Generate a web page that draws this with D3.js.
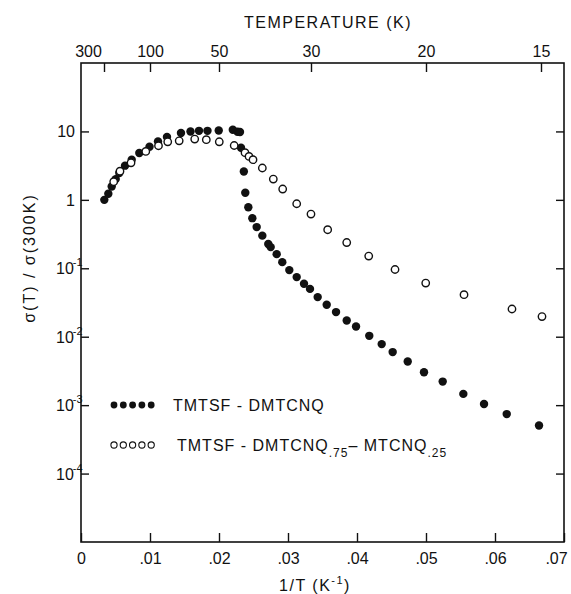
<!DOCTYPE html>
<html>
<head>
<meta charset="utf-8">
<script src="https://cdn.jsdelivr.net/npm/d3@7"></script>
<style>
  body { margin: 0; background: #fff; }
  svg text { font-family: "Liberation Sans", Arial, sans-serif; fill: #111; }
</style>
</head>
<body>
<div id="chart"></div>
<script>
// TMTSF-DMTCNQ (filled)
const filledX = [.00338, .00396, .00445, .00503, .00555, .00638, .00735, .00845, .00993, .01116, .01246, .01449,
  .01587, .0171, .01833, .01996, .0220, .02268, .02304, .02319, .0236, .02381, .02425, .02483, .02546, .02628,
  .02714, .02749, .02836, .02917, .03019, .03126, .03232, .03319, .0343, .03561, .03696, .03851, .03986, .04178,
  .04358, .04517, .04735, .04971, .05242, .05541, .05841, .0617, .06638];
const filledY = [1.0, 1.23, 1.57, 2.01, 2.47, 3.16, 3.86, 4.83, 5.97, 7.15, 8.28, 9.49,
  10.0, 10.2, 10.2, 10.3, 10.6, 9.9, 9.8, 5.78, 2.60, 1.27, 0.78, 0.54, 0.40, 0.30,
  0.226, 0.204, 0.161, 0.123, 0.094, 0.0743, 0.0593, 0.050, 0.0379, 0.0293, 0.0229, 0.0173, 0.0141, 0.0103,
  0.0078, 0.00596, 0.00434, 0.00303, 0.00221, 0.00146, 0.00104, 0.00074, 0.000503];

// TMTSF-DMTCNQ.75-MTCNQ.25 (open)
const openX = [.00474, .00565, .00725, .00939, .01123, .01257, .01423, .01648, .01816, .02004, .0222, .02377,
  .02435, .02493, .02628, .02787, .02923, .03126, .03333, .03575, .03851, .0417, .04551, .04996, .05551, .06246, .06681];
const openY = [1.84, 2.62, 3.48, 5.1, 6.18, 7.06, 7.3, 7.74, 7.57, 7.06, 6.23, 4.89,
  4.31, 3.86, 2.92, 2.01, 1.44, 0.877, 0.619, 0.366, 0.238, 0.151, 0.096, 0.0608, 0.0412, 0.0254, 0.0197];

const xTicks = [0, .01, .02, .03, .04, .05, .06, .07];
const yTicks = [1e-4, 1e-3, 1e-2, 1e-1, 1, 10];
const tempTicks = [300, 100, 50, 30, 20, 15];

const width = 571, height = 594;
const plotLeft = 81, plotRight = 564, plotTop = 63, plotBottom = 542;

const svg = d3.select("#chart").append("svg").attr("width", width).attr("height", height);

const x = d3.scaleLinear().domain([0, 0.07]).range([plotLeft, plotRight]);
const y = d3.scaleLog().domain([1e-5, 1e2]).range([plotBottom, plotTop]);

// ------------------------------
// Axes
// ------------------------------
const bottomAxis = d3.axisBottom(x)
  .tickValues(xTicks)
  .tickSizeInner(-9).tickSizeOuter(0).tickPadding(11)
  .tickFormat(d => d === 0 ? "0" : d3.format(".2f")(d).replace(/^0/, ""));

const topAxis = d3.axisTop(x)
  .tickValues(tempTicks.map(t => 1 / t))
  .tickSizeInner(-9).tickSizeOuter(0).tickPadding(6)
  .tickFormat(d => Math.round(1 / d));

const leftAxis = d3.axisLeft(y).tickValues(yTicks).tickSizeInner(-8).tickSizeOuter(0).tickFormat("");
const rightAxis = d3.axisRight(y).tickValues(yTicks).tickSizeInner(-8).tickSizeOuter(0).tickFormat("");

function styleAxis(g) {
  g.select(".domain").remove();
  g.selectAll("line").attr("stroke", "#111").attr("stroke-width", 1.4);
  g.selectAll("text").attr("font-size", "16px").attr("fill", "#111")
    .attr("font-family", "Liberation Sans, Arial, sans-serif");
}

svg.append("g").attr("transform", `translate(0,${plotBottom})`).call(bottomAxis).call(styleAxis)
  .selectAll("text")
  .attr("dx", d => d === 0.07 ? -8 : 0);
svg.append("g").attr("transform", `translate(0,${plotTop})`).call(topAxis).call(styleAxis)
  .selectAll("text")
  .attr("dx", d => Math.round(1 / d) === 300 ? -16 : 0);
svg.append("g").attr("transform", `translate(${plotLeft},0)`).call(leftAxis).call(styleAxis);
svg.append("g").attr("transform", `translate(${plotRight},0)`).call(rightAxis).call(styleAxis);

// frame
svg.append("rect")
  .attr("x", plotLeft).attr("y", plotTop)
  .attr("width", plotRight - plotLeft).attr("height", plotBottom - plotTop)
  .attr("fill", "none").attr("stroke", "#111").attr("stroke-width", 1.6);

// y tick labels with powers of ten
const yLabels = svg.selectAll(".y-label")
  .data(yTicks)
  .enter()
  .append("text")
  .attr("class", "y-label")
  .attr("y", d => y(d) + 6)
  .attr("font-size", "16px");

yLabels.each(function (d) {
  const t = d3.select(this);
  const p = Math.round(Math.log10(d));
  if (p >= 0) {
    t.attr("x", 75).attr("text-anchor", "end").text(d3.format("d")(d));
  } else {
    t.attr("x", 56).attr("text-anchor", "start");
    t.append("tspan").text("10");
    t.append("tspan").attr("font-size", "11px").attr("dy", -8).attr("dx", -1).text("-" + (-p));
  }
});

// axis titles
svg.append("text")
  .attr("x", 328).attr("y", 28)
  .attr("text-anchor", "middle")
  .attr("font-size", "16px")
  .attr("letter-spacing", "1.5px")
  .text("TEMPERATURE (K)");

const xTitle = svg.append("text")
  .attr("x", 315).attr("y", 591)
  .attr("text-anchor", "middle")
  .attr("font-size", "16px")
  .attr("letter-spacing", "1.5px");
xTitle.append("tspan").text("1/T  (K");
xTitle.append("tspan").attr("font-size", "11px").attr("dy", -7).text("-1");
xTitle.append("tspan").attr("dy", 7).text(")");

svg.append("text")
  .attr("transform", "translate(35,258) rotate(-90)")
  .attr("text-anchor", "middle")
  .attr("font-size", "16px")
  .attr("letter-spacing", "2px")
  .text("σ(T) / σ(300K)");

// ------------------------------
// Data points
// ------------------------------
const filled = filledX.map((v, i) => ({ x: v, y: filledY[i] }));
const open = openX.map((v, i) => ({ x: v, y: openY[i] }));

svg.selectAll(".pt-filled")
  .data(filled)
  .enter()
  .append("circle")
  .attr("class", "pt-filled")
  .attr("cx", d => x(d.x))
  .attr("cy", d => y(d.y))
  .attr("r", 4.2)
  .attr("fill", "#111");

svg.selectAll(".pt-open")
  .data(open)
  .enter()
  .append("circle")
  .attr("class", "pt-open")
  .attr("cx", d => x(d.x))
  .attr("cy", d => y(d.y))
  .attr("r", 3.7)
  .attr("fill", "#fff")
  .attr("stroke", "#111")
  .attr("stroke-width", 1.4);

// ------------------------------
// Legend
// ------------------------------
const legendDots = [0, 1, 2, 3, 4];

svg.selectAll(".leg-filled")
  .data(legendDots)
  .enter()
  .append("circle")
  .attr("class", "leg-filled")
  .attr("cx", d => 114 + d * 9.3)
  .attr("cy", 405)
  .attr("r", 3.4)
  .attr("fill", "#111");

svg.selectAll(".leg-open")
  .data(legendDots)
  .enter()
  .append("circle")
  .attr("class", "leg-open")
  .attr("cx", d => 114 + d * 9.3)
  .attr("cy", 445)
  .attr("r", 3.1)
  .attr("fill", "#fff")
  .attr("stroke", "#111")
  .attr("stroke-width", 1.1);

svg.append("text")
  .attr("x", 173).attr("y", 411)
  .attr("font-size", "16px")
  .attr("letter-spacing", "1px")
  .text("TMTSF - DMTCNQ");

const leg2 = svg.append("text")
  .attr("x", 177).attr("y", 451)
  .attr("font-size", "16px")
  .attr("letter-spacing", "1px");
leg2.append("tspan").text("TMTSF - DMTCNQ");
leg2.append("tspan").attr("font-size", "12px").attr("dy", 6).text(".75");
leg2.append("tspan").attr("dy", -6).text("–  MTCNQ");
leg2.append("tspan").attr("font-size", "12px").attr("dy", 6).text(".25");
</script>
</body>
</html>
